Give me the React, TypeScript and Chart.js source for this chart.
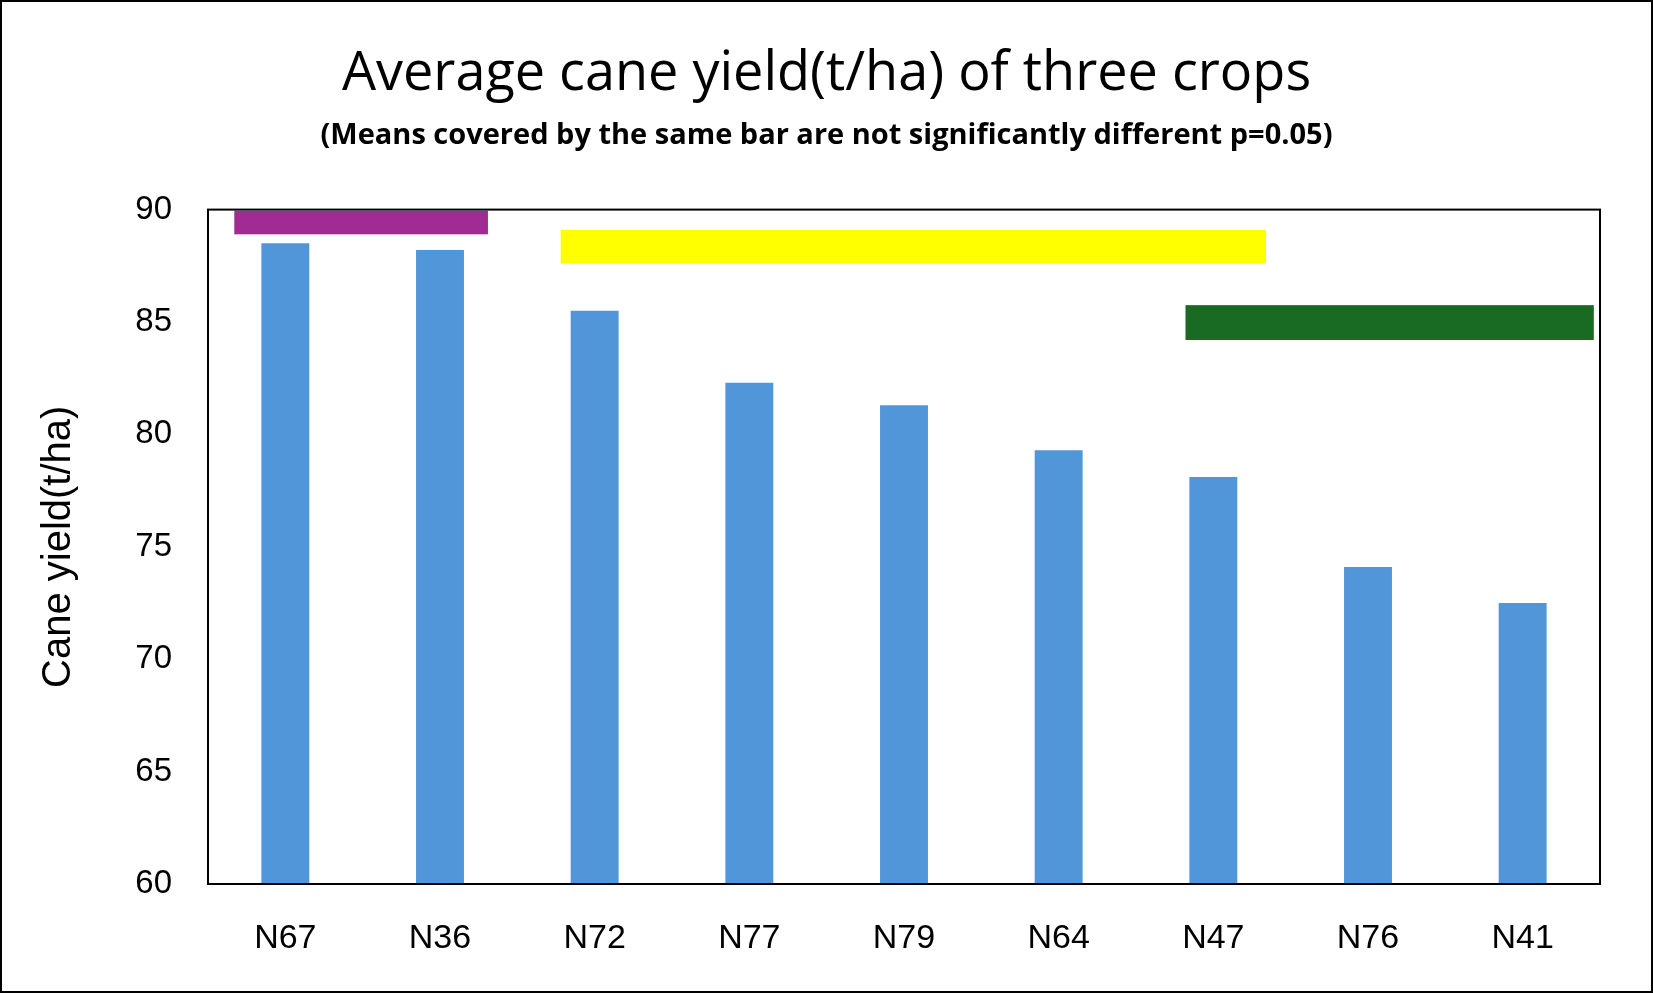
import React, { useEffect, useRef } from "react";
import { Chart, registerables } from "chart.js";
Chart.register(...registerables);

const categories = ["N67", "N36", "N72", "N77", "N79", "N64", "N47", "N76", "N41"];
const yieldValues = [88.5, 88.2, 85.5, 82.3, 81.3, 79.3, 78.1, 74.1, 72.5];
const groupColors = ["#A02B93", "#FFFF00", "#196B24"];
// start/end in category-index units, low/high in t/ha
const groupStart = [-0.33, 1.78, 5.82];
const groupEnd = [1.31, 6.34, 8.46];
const groupLow = [88.9, 87.6, 84.2];
const groupHigh = [89.95, 89.1, 85.75];

const groupPlugin = {
  id: "groups",
  afterDatasetsDraw(chart: any) {
    const { ctx, scales } = chart;
    const x = scales.x, y = scales.y;
    const p0 = x.getPixelForValue(0);
    const step = x.getPixelForValue(1) - p0;
    ctx.save();
    for (let i = 0; i < groupColors.length; i++) {
      const l = p0 + groupStart[i] * step;
      const r = p0 + groupEnd[i] * step;
      const t = y.getPixelForValue(groupHigh[i]);
      const b = y.getPixelForValue(groupLow[i]);
      ctx.fillStyle = groupColors[i];
      ctx.fillRect(l, t, r - l, b - t);
    }
    const a = chart.chartArea;
    ctx.strokeStyle = "#000";
    ctx.lineWidth = 2;
    ctx.strokeRect(a.left, a.top, a.right - a.left, a.bottom - a.top);
    ctx.restore();
  },
};

export default function App() {
  const ref = useRef<HTMLCanvasElement>(null);
  useEffect(() => {
    const chart = new Chart(ref.current!, {
      type: "bar",
      data: {
        labels: categories,
        datasets: [{ data: yieldValues, backgroundColor: "#5296DA", barPercentage: 0.31, categoryPercentage: 1 }],
      },
      options: {
        animation: false,
        responsive: true,
        maintainAspectRatio: false,
        layout: { padding: 0 },
        plugins: {
          legend: { display: false },
          tooltip: { enabled: false },
          title: {
            display: true,
            text: "Average cane yield(t/ha) of three crops",
            color: "#000",
            font: { family: "Open Sans", size: 54, weight: "normal" as any, lineHeight: 1.2 },
            padding: { top: 40, bottom: 8 },
          },
          subtitle: {
            display: true,
            text: "(Means covered by the same bar are not significantly different p=0.05)",
            color: "#000",
            font: { family: "Open Sans", size: 29, weight: "bold" as any, lineHeight: 1.2 },
            padding: { top: 4, bottom: 56 },
          },
        },
        scales: {
          x: {
            grid: { display: false, drawTicks: false },
            border: { display: false },
            ticks: { color: "#000", font: { family: "Liberation Sans", size: 34 }, padding: 34 },
            afterFit: (s: any) => { s.height = 107; },
          },
          y: {
            min: 60,
            max: 90,
            grid: { display: false, drawTicks: false },
            border: { display: false },
            ticks: { stepSize: 5, color: "#000", font: { family: "Liberation Sans", size: 33 }, padding: 36 },
            title: {
              display: true,
              text: "Cane yield(t/ha)",
              color: "#000",
              font: { family: "Liberation Sans", size: 40 },
              padding: { top: 33, bottom: 0 },
            },
            afterFit: (s: any) => { s.width = 206; },
          },
          y2: {
            position: "right",
            min: 60,
            max: 90,
            grid: { display: false, drawTicks: false },
            border: { display: false },
            ticks: { display: false },
            afterFit: (s: any) => { s.width = 51; },
          },
        },
      },
      plugins: [groupPlugin],
    });
    return () => chart.destroy();
  }, []);
  return (
    <div style={{ position: "fixed", left: 0, top: 0, width: 1653, height: 993, border: "2px solid #000", boxSizing: "border-box", background: "#fff" }}>
      <canvas ref={ref} />
    </div>
  );
}
